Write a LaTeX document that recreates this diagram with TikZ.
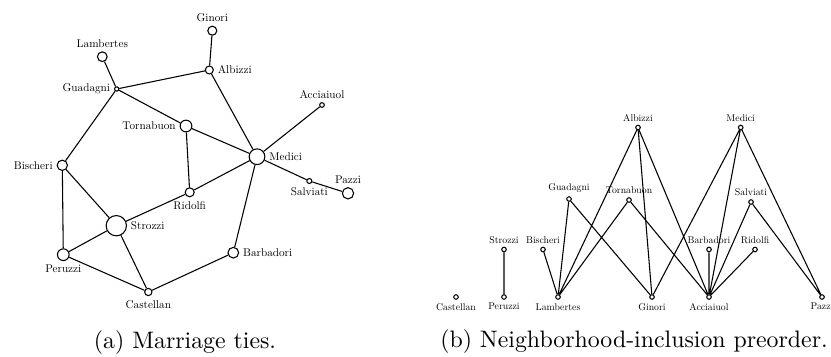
\documentclass[tikz,border=0pt]{standalone}
\begin{document}
\begin{tikzpicture}[x=0.42pt,y=-0.42pt,line width=0.45pt,
  fam/.style={circle,draw,fill=white,inner sep=0pt,minimum size={(#1-1)*0.42pt}},
  elt/.style={circle,draw,fill=white,inner sep=0pt,minimum size=1.9pt},
  la/.style={scale=0.47},
  lb/.style={scale=0.41}]
  \useasboundingbox (0,0) rectangle (831,356);
  % (a) marriage ties
  \node[fam=10,label distance=0.6pt,label={[la]above:Ginori}] (gin) at (212.3,30.7) {};
  \node[fam=10.7,label distance=0.6pt,label={[la]above:Lambertes}] (lam) at (102.3,56.7) {};
  \node[fam=9,label={[la]right:Albizzi}] (alb) at (209.3,70) {};
  \node[fam=5.3,label distance=2.6pt,label={[la]left:Guadagni}] (gua) at (116.7,89) {};
  \node[fam=5.7,label distance=0.6pt,label={[la]above:Acciaiuol}] (acc) at (322,105) {};
  \node[fam=12.7,label distance=2.6pt,label={[la]left:Tornabuon}] (tor) at (186,126) {};
  \node[fam=16.7,label={[la]right:Medici}] (med) at (257,156.7) {};
  \node[fam=11.3,label distance=2.6pt,label={[la]left:Bischeri}] (bis) at (62.3,165.3) {};
  \node[fam=6,label distance=1.2pt,label={[la]below:Salviati}] (sal) at (309.3,181) {};
  \node[fam=12.3,label distance=0.6pt,label={[la]above:Pazzi}] (paz) at (348,193.3) {};
  \node[fam=10,label distance=1.2pt,label={[la]below:Ridolfi}] (rid) at (189.7,192.3) {};
  \node[fam=21.3,label={[la]right:Strozzi}] (str) at (116.3,225.7) {};
  \node[fam=12.7,label distance=1.2pt,label={[la]below:Peruzzi}] (per) at (63.3,254.7) {};
  \node[fam=11.7,label={[la]right:Barbadori}] (bar) at (233.3,252.7) {};
  \node[fam=8.3,label distance=1.2pt,label={[la]below:Castellan}] (cas) at (148.3,292) {};
  \draw (gin) -- (alb) (lam) -- (gua) (gua) -- (alb) (gua) -- (tor) (gua) -- (bis)
    (alb) -- (med) (tor) -- (med) (tor) -- (rid) (med) -- (acc) (med) -- (sal)
    (sal) -- (paz) (med) -- (rid) (med) -- (bar) (rid) -- (str) (bis) -- (str)
    (bis) -- (per) (per) -- (str) (per) -- (cas) (str) -- (cas) (cas) -- (bar);
  \node (capa) at (185,343) {(a) Marriage ties.};
  % (b) neighborhood-inclusion preorder
  \node[elt,label={[lb]above:Albizzi}] (balb) at (638,127.5) {};
  \node[elt,label={[lb]above:Medici}] (bmed) at (740.7,127.5) {};
  \node[elt,label={[lb]above:Guadagni}] (bgua) at (569,199) {};
  \node[elt,label={[lb]above:Tornabuon}] (btor) at (629,200) {};
  \node[elt,label={[lb]above:Salviati}] (bsal) at (751,202) {};
  \node[elt,label={[lb]above:Strozzi}] (bstr) at (504,249.5) {};
  \node[elt,label={[lb]above:Bischeri}] (bbis) at (543,249.5) {};
  \node[elt,label={[lb]above:Barbadori}] (bbar) at (709,249.5) {};
  \node[elt,label={[lb]above:Ridolfi}] (brid) at (755,249.5) {};
  \node[elt,label distance=1.2pt,label={[lb]below:Castellan}] (bcas) at (456,297) {};
  \node[elt,label distance=1.2pt,label={[lb]below:Peruzzi}] (bper) at (504,297) {};
  \node[elt,label distance=1.2pt,label={[lb]below:Lambertes}] (blam) at (558,297) {};
  \node[elt,label distance=1.2pt,label={[lb]below:Ginori}] (bgin) at (652,297) {};
  \node[elt,label distance=1.2pt,label={[lb]below:Acciaiuol}] (bacc) at (709,297) {};
  \node[elt,label distance=1.2pt,label={[lb]below:Pazzi}] (bpaz) at (822,297) {};
  \draw (bstr) -- (bper) (blam) -- (bbis) (blam) -- (bgua) (blam) -- (balb)
    (blam) -- (btor) (bgua) -- (bgin) (balb) -- (bgin) (bmed) -- (bgin)
    (balb) -- (bacc) (btor) -- (bacc) (bmed) -- (bacc) (bsal) -- (bacc)
    (bbar) -- (bacc) (brid) -- (bacc) (bmed) -- (bpaz) (bsal) -- (bpaz);
  \node (capb) at (634,342) {(b) Neighborhood-inclusion preorder.};
\end{tikzpicture}
\end{document}
